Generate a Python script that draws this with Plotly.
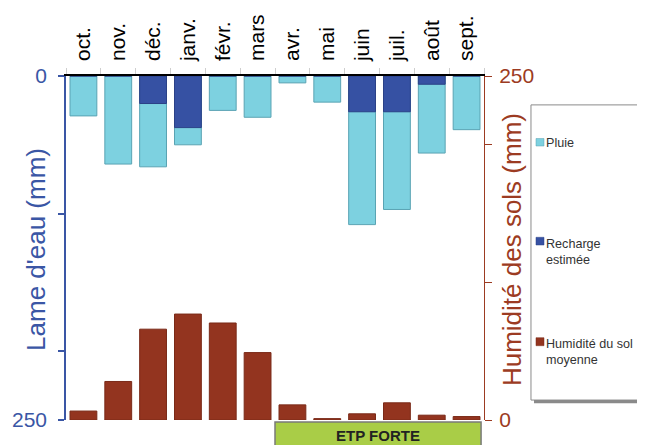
import plotly.graph_objects as go

months = ["oct.", "nov.", "déc.", "janv.", "févr.", "mars", "avr.", "mai", "juin", "juil.", "août", "sept."]
pluie = [29, 64, 66, 50, 25, 30, 5, 19, 108, 97, 56, 39]
recharge = [0, 0, 20, 37.5, 0, 0, 0, 0, 26, 26, 6, 0]
humidite = [6.5, 28, 66, 77, 70.5, 49, 11, 1, 4.5, 12.5, 3.5, 2.5]

series_names = ["Pluie", "Recharge<br>estimée", "Humidité du sol<br>moyenne"]
series_colors = ["#7dd1e0", "#3651a3", "#93341f"]
series_edges = ["#5aa3b3", "#2b4187", "#7a2a18"]

left_ticks = [0, 100, 200, 250]
left_labels = ["0", "", "", "250"]
right_ticks = [0, 100, 200, 250]
right_labels = ["0", "", "", "250"]

BLUE = "#3a56a5"
BROWN = "#9c3b22"
FONT = "Liberation Sans, Arial, sans-serif"

fig = go.Figure()
fig.add_trace(go.Bar(x=months, y=pluie, name=series_names[0], width=0.77,
                     marker=dict(color=series_colors[0], line=dict(color=series_edges[0], width=1))))
fig.add_trace(go.Bar(x=months, y=recharge, name=series_names[1], width=0.77,
                     marker=dict(color=series_colors[1], line=dict(color=series_edges[1], width=1))))
fig.add_trace(go.Bar(x=months, y=humidite, name=series_names[2], width=0.77,
                     marker=dict(color=series_colors[2], line=dict(color=series_edges[2], width=1)),
                     yaxis="y2"))

fig.update_layout(
    width=637, height=437,
    margin=dict(l=58, r=161, t=68, b=25, autoexpand=False),
    paper_bgcolor="white", plot_bgcolor="white",
    barmode="overlay",
    font=dict(family=FONT),
    showlegend=False,
    xaxis=dict(type="category", side="top", tickangle=-90, tickson="boundaries",
               ticks="outside", ticklen=6, tickcolor="#cfcfcf", tickwidth=1,
               showline=True, linecolor="black", linewidth=1.5,
               showgrid=False, tickfont=dict(size=21, color="black"),
               ticklabelstandoff=9, automargin=False),
    yaxis=dict(range=[250, 0], tickvals=left_ticks, ticktext=left_labels,
               ticks="outside", ticklen=6, tickcolor=BLUE, tickwidth=1.5,
               showline=True, linecolor=BLUE, linewidth=1.5,
               showgrid=False, zeroline=False, automargin=False,
               tickfont=dict(size=21, color=BLUE), ticklabelstandoff=7),
    yaxis2=dict(range=[0, 250], overlaying="y", side="right",
                tickvals=right_ticks, ticktext=right_labels,
                ticks="outside", ticklen=7, tickcolor=BROWN, tickwidth=1,
                showline=True, linecolor=BROWN, linewidth=1,
                showgrid=False, zeroline=False, automargin=False,
                tickfont=dict(size=21, color=BROWN), ticklabelstandoff=3),
)

# legend box with shadow
fig.add_shape(type="rect", xref="paper", yref="paper",
              x0=1.1196, x1=1.39, y0=0.049, y1=0.907,
              fillcolor="#8a8a8a", line=dict(width=0), layer="below")
fig.add_shape(type="rect", xref="paper", yref="paper",
              x0=1.1124, x1=1.383, y0=0.058, y1=0.916,
              fillcolor="white", line=dict(color="#8a8a8a", width=1), layer="below")

# legend entries (symbol + label)
sym_y = [(0.7965, 0.8183), (0.5087, 0.5311), (0.2160, 0.2392)]
txt_y = [0.806, 0.4898, 0.1977]
for i in range(3):
    fig.add_shape(type="rect", xref="paper", yref="paper",
                  x0=1.1244, x1=1.1435, y0=sym_y[i][0], y1=sym_y[i][1],
                  fillcolor=series_colors[i], line=dict(color=series_edges[i], width=0.5))
    fig.add_annotation(text=series_names[i], xref="paper", yref="paper",
                       x=1.1435, y=txt_y[i], xanchor="left", yanchor="middle",
                       align="left", showarrow=False,
                       font=dict(size=12.6, color="#333333"))

# ETP FORTE box
fig.add_shape(type="rect", xref="paper", yref="paper",
              x0=0.5, x1=0.993, y0=-0.006, y1=-0.09,
              fillcolor="#a9cd47", line=dict(color="#7a7a7a", width=1.5))
fig.add_annotation(text="<b>ETP FORTE</b>", xref="paper", yref="paper",
                   x=0.746, y=-0.046, xanchor="center", yanchor="middle",
                   showarrow=False, font=dict(size=15, color="#222222"))

# axis titles
fig.add_annotation(text="Lame d'eau (mm)", xref="paper", yref="paper",
                   x=-0.072, y=0.497, xanchor="center", yanchor="middle",
                   textangle=-90, showarrow=False,
                   font=dict(size=26, color=BLUE))
fig.add_annotation(text="Humidité des sols (mm)", xref="paper", yref="paper",
                   x=1.067, y=0.494, xanchor="center", yanchor="middle",
                   textangle=-90, showarrow=False,
                   font=dict(size=26, color=BROWN))

fig.write_html("out.html")
